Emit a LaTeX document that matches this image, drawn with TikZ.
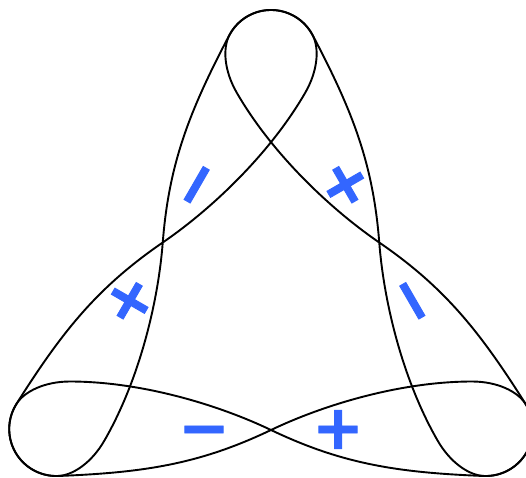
\documentclass[tikz,border=0pt]{standalone}
\usepackage{fontspec}
\newfontfamily\signfont{DejaVu Sans Bold}[FakeBold=1.5]
\definecolor{signblue}{RGB}{51,102,255}
\tikzset{
  band/.style={line width=1.9pt, line join=round, draw=black},
  sign/.style={text=signblue, font=\signfont\fontsize{61}{61}\selectfont,
               inner sep=0pt, anchor=center, transform shape},
}
\begin{document}
\begin{tikzpicture}[x=1pt,y=1pt]
\useasboundingbox (-271,-172) rectangle (255,305);
\clip (-271,-172) rectangle (255,305);
\foreach \ang in {0,120,240} {
  \begin{scope}[rotate=\ang]
    \draw[band] (-254.5,-98.9)
      .. controls (-246.5,-86.2) and (-226,-76.5) .. (-201,-76.5)
      .. controls (-131,-76.5) and (-54.1,-99.1) .. (0,-125)
      .. controls (72.2,-159.5) and (128,-167.6) .. (212.9,-171.0)
      arc[start angle=267.7, end angle=392.3, radius=47]
      .. controls (246.5,-86.2) and (226,-76.5) .. (201,-76.5)
      .. controls (131,-76.5) and (54.1,-99.1) .. (0,-125)
      .. controls (-72.2,-159.5) and (-128,-167.6) .. (-212.9,-171.0)
      arc[start angle=272.3, end angle=147.7, radius=47] -- cycle;
    \node[sign] (minus\ang) at (-67,-124.5) {\vphantom{+}−};
    \node[sign] (plus\ang) at (67,-124.5) {+};
  \end{scope}
}
\end{tikzpicture}
\end{document}
